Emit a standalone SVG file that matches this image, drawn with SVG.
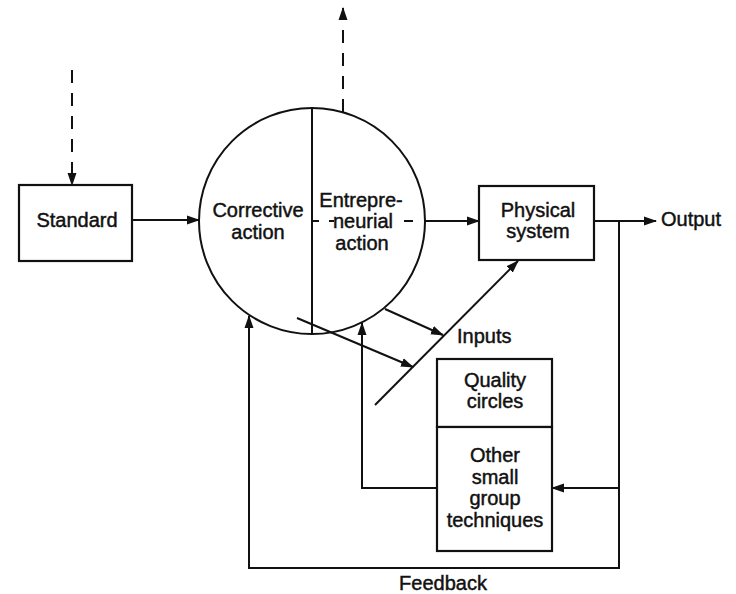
<svg xmlns="http://www.w3.org/2000/svg" width="736" height="594" viewBox="0 0 736 594">
<style>
.ln{fill:none;stroke:#111;stroke-width:2;}
.ds{fill:none;stroke:#111;stroke-width:2;stroke-dasharray:13 10;}
.bx{fill:#fff;stroke:#111;stroke-width:2.2;}
.t{font-family:"Liberation Sans",Arial,Helvetica,sans-serif;font-size:20px;fill:#111;stroke:#111;stroke-width:0.45;text-anchor:middle;}
.tl{font-family:"Liberation Sans",Arial,Helvetica,sans-serif;font-size:20px;fill:#111;stroke:#111;stroke-width:0.45;text-anchor:start;}
</style>
<defs>
<marker id="ah" viewBox="0 0 13 10" refX="12" refY="5" markerWidth="13" markerHeight="10" markerUnits="userSpaceOnUse" orient="auto">
<path d="M0,0.5 L13,5 L0,9.5 Z" fill="#111"/>
</marker>
</defs>
<rect width="736" height="594" fill="#fff"/>

<g id="connectors">
<line class="ds" x1="72" y1="70" x2="72" y2="185" marker-end="url(#ah)"/>
<line class="ds" x1="343" y1="112" x2="343" y2="8" marker-end="url(#ah)"/>
<line class="ln" x1="132" y1="220" x2="199" y2="220" marker-end="url(#ah)"/>
<line class="ln" x1="313" y1="221" x2="319" y2="221"/>
<line class="ln" x1="329" y1="221" x2="334" y2="221"/>
<line class="ln" x1="404" y1="221" x2="413" y2="221"/>
<line class="ln" x1="425" y1="221" x2="479" y2="221" marker-end="url(#ah)"/>
<line class="ln" x1="594" y1="221" x2="656" y2="221" marker-end="url(#ah)"/>
<polyline class="ln" points="619,221 619,568 249,568 249,316" marker-end="url(#ah)"/>
<line class="ln" x1="619" y1="488" x2="552" y2="488" marker-end="url(#ah)"/>
<polyline class="ln" points="437,488 362,488 362,323" marker-end="url(#ah)"/>
<line class="ln" x1="375" y1="405" x2="518" y2="261" marker-end="url(#ah)"/>
<line class="ln" x1="385" y1="309" x2="443" y2="335" marker-end="url(#ah)"/>
<line class="ln" x1="297" y1="318" x2="413" y2="367" marker-end="url(#ah)"/>
</g>

<g id="standard">
<rect class="bx" x="19" y="185" width="113" height="76"/>
<text class="t" x="77" y="227">Standard</text>
</g>

<g id="action-circle">
<circle class="ln" cx="312" cy="221" r="113"/>
<line class="ln" x1="312" y1="108" x2="312" y2="335"/>
<text class="t" x="258" y="217">Corrective</text>
<text class="t" x="258" y="239">action</text>
<text class="t" x="361" y="207">Entrepre-</text>
<text class="t" x="363" y="228">neurial</text>
<text class="t" x="362" y="250">action</text>
</g>

<g id="physical-system">
<rect class="bx" x="479" y="186" width="115" height="74"/>
<text class="t" x="538" y="217">Physical</text>
<text class="t" x="538" y="238">system</text>
</g>

<g id="output">
<text class="tl" x="661" y="226">Output</text>
</g>

<g id="inputs">
<text class="tl" x="457" y="343">Inputs</text>
</g>

<g id="quality-circles">
<rect class="bx" x="437" y="359" width="115" height="68"/>
<text class="t" x="495" y="387">Quality</text>
<text class="t" x="495" y="408">circles</text>
</g>

<g id="other-techniques">
<rect class="bx" x="437" y="427" width="115" height="124"/>
<text class="t" x="495" y="462">Other</text>
<text class="t" x="495" y="484">small</text>
<text class="t" x="495" y="505">group</text>
<text class="t" x="495" y="527">techniques</text>
</g>

<g id="feedback">
<text class="t" x="443" y="590">Feedback</text>
</g>
</svg>
